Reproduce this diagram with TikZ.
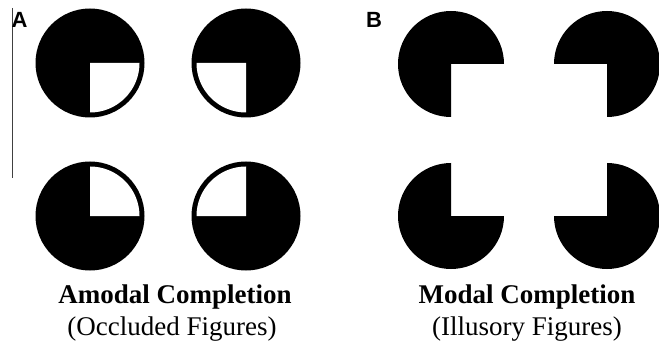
\documentclass[tikz,border=0pt]{standalone}
\usepackage{fontspec}
\setmainfont{Liberation Serif}
\newfontfamily\panelfont{Liberation Sans}
\begin{document}
\begin{tikzpicture}[x=1pt,y=-1pt,
  title/.style={font=\bfseries\fontsize{27}{30}\selectfont, anchor=base, inner sep=0pt},
  subtitle/.style={font=\fontsize{27}{30}\selectfont, anchor=base, inner sep=0pt},
  panel/.style={font=\panelfont\bfseries\fontsize{22}{24}\selectfont, anchor=north west, inner sep=0pt}]
\useasboundingbox (0,0) rectangle (659,350);
\fill[white] (0,0) rectangle (659,350);
% panel A line and label
\coordinate (lt) at (12,8);
\coordinate (lb) at (12,178);
\draw[black!75, line width=1pt] (lt) -- (lb);
\node[panel] (labA) at (11.5,12.5) {A};
\node[panel] (labB) at (366,12.5) {B};
% Panel A: occluded discs
\def\R{54.5}
\def\W{49.5}
\coordinate (a1) at (90,63);
\coordinate (a2) at (246,63);
\coordinate (a3) at (90,216);
\coordinate (a4) at (246,216);
\fill[black] (a1) circle[radius=\R];
\fill[white] (a1) -- ++(0:\W) arc[start angle=0,end angle=90,radius=\W] -- cycle;
\fill[black] (a2) circle[radius=\R];
\fill[white] (a2) -- ++(90:\W) arc[start angle=90,end angle=180,radius=\W] -- cycle;
\fill[black] (a3) circle[radius=\R];
\fill[white] (a3) -- ++(270:\W) arc[start angle=270,end angle=360,radius=\W] -- cycle;
\fill[black] (a4) circle[radius=\R];
\fill[white] (a4) -- ++(180:\W) arc[start angle=180,end angle=270,radius=\W] -- cycle;
% Panel B: pacmen
\def\P{53}
\coordinate (b1) at (451,64);
\coordinate (b2) at (607,64);
\coordinate (b3) at (451,216);
\coordinate (b4) at (607,216);
\fill[black] (b1) -- ++(90:\P) arc[start angle=90,end angle=360,radius=\P] -- cycle;
\fill[black] (b2) -- ++(180:\P) arc[start angle=180,end angle=450,radius=\P] -- cycle;
\fill[black] (b3) -- ++(0:\P) arc[start angle=0,end angle=270,radius=\P] -- cycle;
\fill[black] (b4) -- ++(270:\P) arc[start angle=270,end angle=540,radius=\P] -- cycle;
% captions
\node[title] (t1) at (175,303) {Amodal Completion};
\node[subtitle] (s1) at (172,335) {(Occluded Figures)};
\node[title] (t2) at (527,303) {Modal Completion};
\node[subtitle] (s2) at (527,335) {(Illusory Figures)};
\end{tikzpicture}
\end{document}
